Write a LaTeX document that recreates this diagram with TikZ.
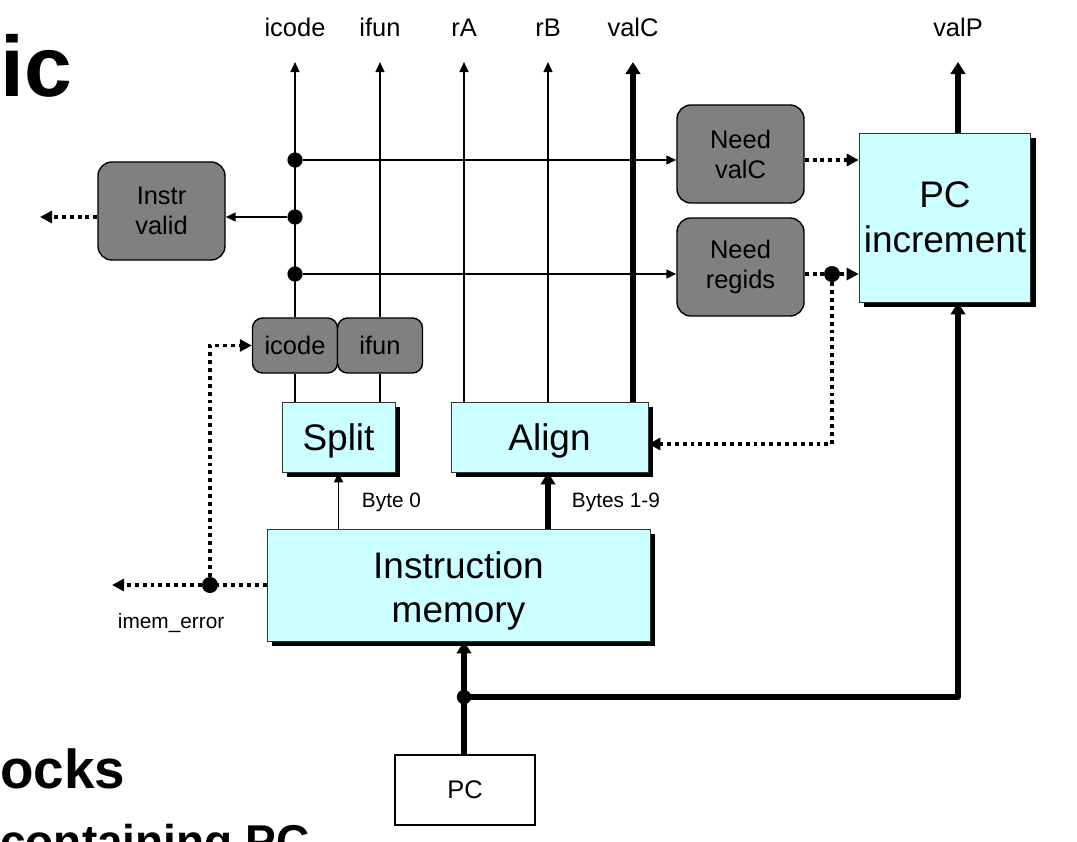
\documentclass[tikz,border=0pt]{standalone}
\usepackage{fontspec}
\setmainfont{Liberation Sans}
\usepackage{tikz}
\usetikzlibrary{arrows.meta, shadows}
\definecolor{boxcyan}{HTML}{CCFFFF}
\definecolor{boxgray}{HTML}{808080}

\begin{document}
\begin{tikzpicture}[x=0.025cm, y=-0.025cm,
        ctrl/.style={draw, line width=1pt, fill=boxgray, rounded corners=0.35cm, align=center, font=\fontsize{18.1}{21.3}\selectfont},
        hw/.style={draw=black!80, line width=0.6pt, fill=boxcyan, align=center, font=\fontsize{26.3}{31.9}\selectfont,
            drop shadow={shadow xshift=0.13cm, shadow yshift=-0.13cm, opacity=1, fill=black}},
        dot/.style={circle, fill, inner sep=0pt, minimum size=0.38cm},
        sig/.style={font=\fontsize{18.1}{21.3}\selectfont},
        small/.style={font=\fontsize{14.8}{17}\selectfont},
        wire/.style={line width=1.4pt, -{Triangle[length=0.25cm, width=0.22cm]}},
        bus/.style={line width=4.2pt, line join=round, -{Triangle[length=0.3cm, width=0.36cm]}},
        flag/.style={line width=2.8pt, dash pattern=on 2.8pt off 2.8pt},
        flagarr/.style={flag, -{Triangle[length=0.3cm, width=0.3cm]}}]
        \useasboundingbox (0,0) rectangle (1077,841);
        \clip (0,0) rectangle (1077,841);

        % slide text cut off at the left
        \node[anchor=base west, inner sep=0pt, font=\bfseries\fontsize{61}{61}\selectfont] at (0,97) {ic};
        \node[anchor=base west, inner sep=0pt, font=\bfseries\fontsize{39}{39}\selectfont] at (0,788) {ocks};
        \node[anchor=base west, inner sep=0pt, font=\bfseries\fontsize{32.7}{33}\selectfont] at (0,857) {containing PC};

        % blocks
        \node[ctrl, minimum width=3.175cm, minimum height=2.45cm] (valid) at (161.5,211) {Instr\\valid};
        \node[ctrl, minimum width=3.175cm, minimum height=2.45cm] (needc) at (740.5,154) {Need\\valC};
        \node[ctrl, minimum width=3.175cm, minimum height=2.45cm] (needr) at (740.5,267) {Need\\regids};
        \node[ctrl, rounded corners=0.25cm, minimum width=2.125cm, minimum height=1.375cm] (icodebox) at (295,345.5) {icode};
        \node[ctrl, rounded corners=0.25cm, minimum width=2.125cm, minimum height=1.375cm] (ifunbox) at (380,345.5) {ifun};
        \node[hw, minimum width=4.25cm, minimum height=4.225cm] (pcinc) at (945,217.5) {PC\\increment};
        \node[hw, minimum width=2.825cm, minimum height=1.75cm] (split) at (338.5,437) {\rule{0pt}{24pt}Split};
        \node[hw, minimum width=4.925cm, minimum height=1.75cm] (align) at (549.5,437) {\rule{0pt}{24pt}Align};
        \node[hw, minimum width=9.575cm, minimum height=2.8cm] (imem) at (458.5,585) {\rule{0pt}{27.4pt}Instruction\\memory};
        \node[draw, line width=1pt, sig, minimum width=3.5cm, minimum height=1.75cm] (pc) at (465,790) {PC};

        % outputs at the top
        \node[sig, anchor=base] at (295,37) {icode};
        \node[sig, anchor=base] at (380,37) {ifun};
        \node[sig, anchor=base] at (464,37) {rA};
        \node[sig, anchor=base] at (548,37) {rB};
        \node[sig, anchor=base] at (633,37) {valC};
        \node[sig, anchor=base] at (958,37) {valP};
        \coordinate (ticode) at (295,62);
        \coordinate (tifun) at (380,62);
        \coordinate (tra) at (464,62);
        \coordinate (trb) at (548,62);
        \coordinate (tvalc) at (633,62);
        \coordinate (tvalp) at (958,62);
        \coordinate (vout) at (40,217);
        \coordinate (ierr) at (112,585);
        \coordinate (bend) at (832,444);

        % junctions
        \node[dot] (j1) at (295,160) {};
        \node[dot] (j2) at (295,217) {};
        \node[dot] (j3) at (295,274) {};
        \node[dot, minimum size=0.4cm] (j4) at (832,274) {};
        \node[dot, minimum size=0.4cm] (j6) at (210,585) {};
        \node[dot, minimum size=0.36cm] (j7) at (464,697) {};

        % labels
        \node[small, anchor=base west] at (357,507) {Byte 0};
        \node[small, anchor=base west] at (567,507) {Bytes 1-9};
        \node[small, anchor=base west] at (113,628) {imem\_error};

        % connectors
        \draw[wire] (icodebox.north) -- (ticode);
        \draw[wire] (ifunbox.north) -- (tifun);
        \draw[wire] (align.north -| tra) -- (tra);
        \draw[wire] (align.north -| trb) -- (trb);
        \draw[bus] (align.north -| tvalc) -- (tvalc);
        \draw[bus] (pcinc.north -| tvalp) -- (tvalp);
        \draw[wire] (j1) -- (j1 -| needc.west);
        \draw[wire] (j2) -- (j2 -| valid.east);
        \draw[wire] (j3) -- (j3 -| needr.west);
        \draw[flagarr] (j2 -| valid.west) -- (vout);
        \draw[flagarr] (j1 -| needc.east) -- (j1 -| pcinc.west);
        \draw[flag] (j4 -| needr.east) -- (j4);
        \draw[flagarr] (j4) -- (j4 -| pcinc.west);
        \draw[flagarr] (j4) -- (bend) -- (bend -| align.east);
        \draw[line width=1.4pt] (icodebox.south) -- (split.north -| icodebox.south);
        \draw[line width=1.4pt] (ifunbox.south) -- (split.north -| ifunbox.south);
        \draw[wire] (imem.north -| split.south) -- (split.south);
        \draw[bus] (imem.north -| trb) -- (align.south -| trb);
        \draw[flag] (imem.west |- j6) -- (j6);
        \draw[flagarr] (j6) -- (ierr);
        \draw[flagarr] (j6) |- (icodebox.west);
        \draw[bus] (pc.north -| j7) -- (imem.south -| j7);
        \draw[bus] (j7.center) -| (pcinc.south -| tvalp);
    \end{tikzpicture}
\end{document}
